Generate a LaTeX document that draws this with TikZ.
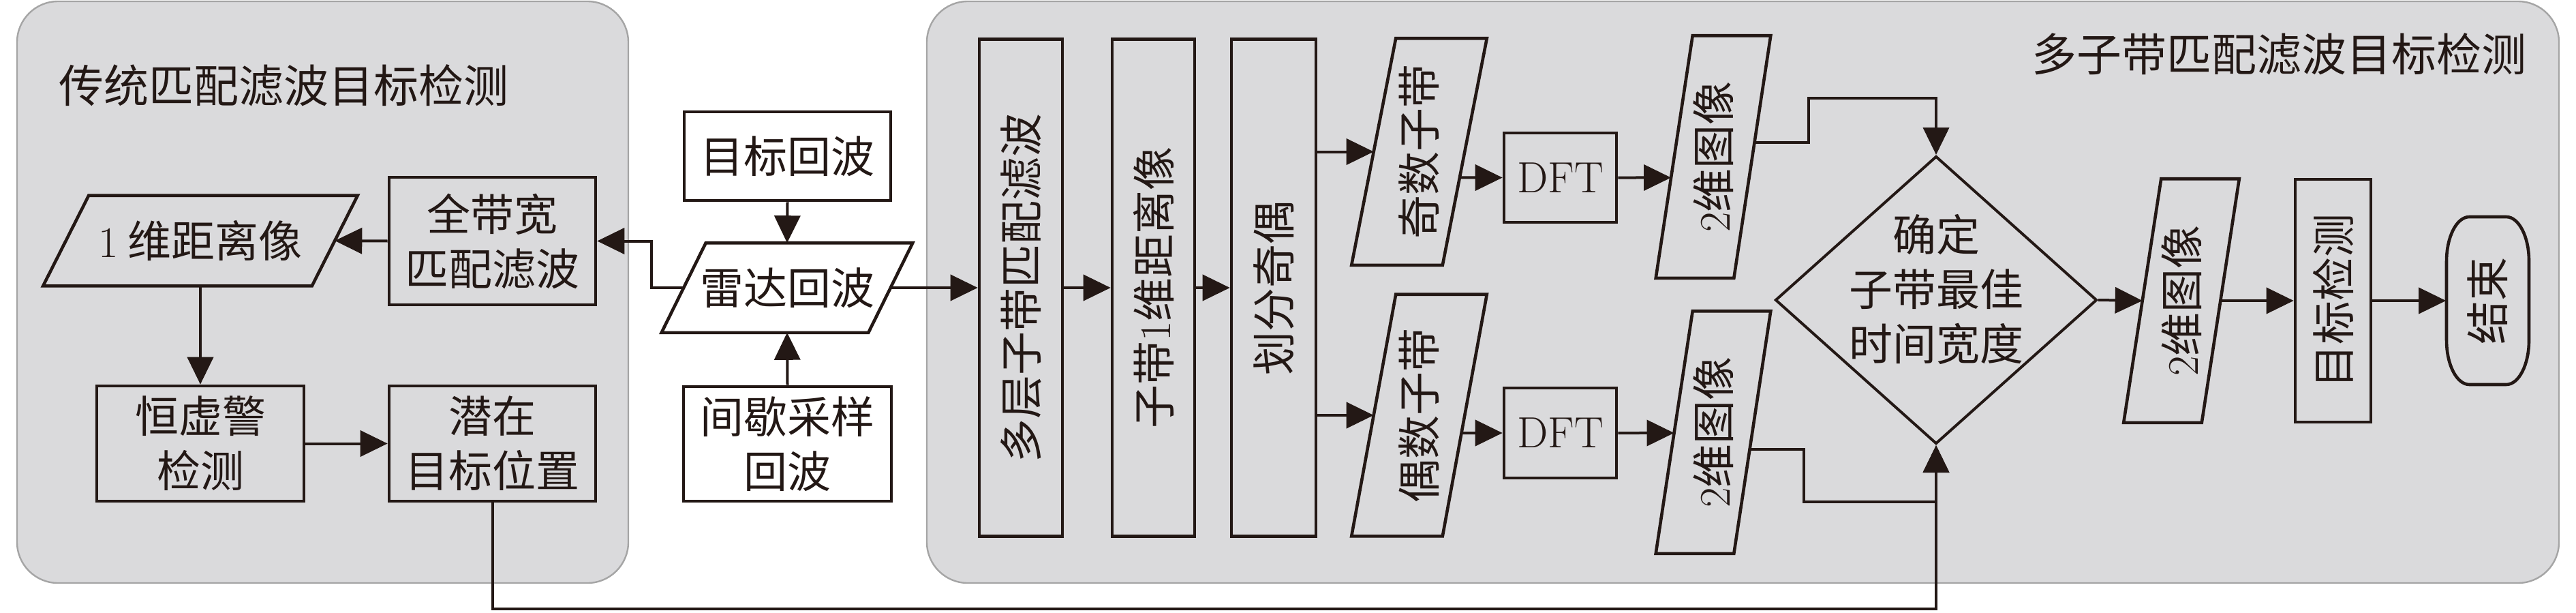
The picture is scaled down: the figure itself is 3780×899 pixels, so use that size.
\documentclass[tikz,border=0pt]{standalone}
\usepackage{fontspec}
\usepackage{graphicx}
\newfontfamily\cjk{Noto Sans CJK SC}
\usetikzlibrary{arrows.meta,calc,shapes.geometric}
\definecolor{ink}{HTML}{231815}
\definecolor{panelfill}{RGB}{218,218,220}
\definecolor{panelline}{RGB}{165,165,165}
\newcommand\lat[1]{{\rmfamily #1}}
\newcommand\vtext[1]{\rotatebox{90}{#1}}
\newcommand\txtfont{\cjk\fontsize{16pt}{20pt}\selectfont}
\newcommand\ttlfont{\cjk\fontsize{16.5pt}{20pt}\selectfont}
\newcommand\parafy[2]{%
  \coordinate (#1bl) at ($(#1.south west)+(-#2,0)$);
  \coordinate (#1br) at ($(#1.south east)+(-#2,0)$);
  \coordinate (#1tr) at ($(#1.north east)+(#2,0)$);
  \coordinate (#1tl) at ($(#1.north west)+(#2,0)$);
  \draw[boxline] (#1bl) -- (#1br) -- (#1tr) -- (#1tl) -- cycle;}
\tikzset{
  wh/.style 2 args={minimum width=#1*0.25pt, minimum height=#2*0.25pt},
  boxline/.style={draw=ink, line width=1.15pt},
  box/.style={draw=ink, line width=1.15pt, inner sep=0pt, text=ink, font=\txtfont, align=center},
  ghost/.style={inner sep=0pt, text=ink, font=\txtfont, align=center},
  arr/.style={draw=ink, line width=1pt, -{Triangle[length=10pt,width=9.5pt]}},
  panel/.style={fill=panelfill, draw=panelline, line width=0.6pt, rounded corners=15pt},
  ttl/.style={text=ink, font=\ttlfont, inner sep=0pt}
}
\begin{document}
\begin{tikzpicture}[x=0.25pt, y=-0.25pt]
\useasboundingbox (0,0) rectangle (3780,899);
% panels
\path[panel] (25,2) rectangle (922,855);
\path[panel] (1360,2) rectangle (3755,855);
\node[ttl, anchor=west] (ltitle) at (86,125) {传统匹配滤波目标检测};
\node[ttl, anchor=east] (rtitle) at (3708,79) {多子带匹配滤波目标检测};
% left part
\node[box, wh={303}{187}] (fullband) at (722.5,353.5) {全带宽\\匹配滤波};
\node[ghost, wh={393}{131}] (range) at (294,353) {\lat{1} 维距离像}; \parafy{range}{33.5}
\node[box, wh={304}{169}] (cfar) at (294,650.5) {恒虚警\\检测};
\node[box, wh={303}{169}] (potential) at (722.5,650.5) {潜在\\目标位置};
\node[box, wh={303}{130}] (echo) at (1155.5,229) {目标回波};
\node[ghost, wh={302}{130}] (radar) at (1155,422) {雷达回波}; \parafy{radar}{32.5}
\node[box, wh={305}{168}] (interm) at (1155.5,651) {间歇采样\\回波};
% right part
\node[box, wh={122}{729}] (multi) at (1498,422) {\vtext{多层子带匹配滤波}};
\node[box, wh={121}{729}] (sub) at (1692.5,422) {\vtext{子带\lat{1}维距离像}};
\node[box, wh={124}{729}] (split) at (1869,422) {\vtext{划分奇偶}};
\node[ghost, wh={132}{331}] (odd) at (2082.5,222.5) {\vtext{奇数子带}}; \parafy{odd}{32.5}
\node[ghost, wh={132}{353}] (even) at (2082.5,609) {\vtext{偶数子带}}; \parafy{even}{32.5}
\node[box, wh={165}{131}] (dfta) at (2289.5,260.5) {\lat{DFT}};
\node[box, wh={165}{132}] (dftb) at (2289.5,635) {\lat{DFT}};
\node[ghost, wh={113}{354}] (imga) at (2514,230) {\vtext{\lat{2}维图像}}; \parafy{imga}{27}
\node[ghost, wh={113}{354}] (imgb) at (2514,634) {\vtext{\lat{2}维图像}}; \parafy{imgb}{27}
\node[diamond, draw=ink, line width=1pt, inner sep=0pt, wh={472}{422}] (dec) at (2841,440) {};
\node[ghost] (dectext) at (2841,424) {确定\\子带最佳\\时间宽度};
\node[ghost, wh={113}{356}] (imgc) at (3201,441) {\vtext{\lat{2}维图像}}; \parafy{imgc}{27.5}
\node[box, wh={111}{356}] (detect) at (3423.5,441) {\vtext{目标检测}};
\node[ghost, wh={121}{246}] (finish) at (3650.5,441) {\vtext{结束}};
\begin{scope}[shift={(finish.center)}]
\draw[boxline] (-27,-123) -- (27,-123) .. controls (45.5,-123) and (60.5,-94) .. (60.5,-58)
  -- (60.5,58) .. controls (60.5,94) and (45.5,123) .. (27,123) -- (-27,123)
  .. controls (-45.5,123) and (-60.5,94) .. (-60.5,58) -- (-60.5,-58)
  .. controls (-60.5,-94) and (-45.5,-123) .. (-27,-123) -- cycle;
\end{scope}
% connectors
\coordinate (bottomrail) at (0,893);
\draw[arr] (radar.west) -- ++(-47,0) |- (fullband.east);
\draw[arr] (fullband.west) -- (range.east);
\draw[arr] (range.south) -- (cfar.north);
\draw[arr] (cfar.east) -- (potential.west);
\draw[arr] (potential.south) -- (potential.south |- bottomrail) -| (dec.south);
\draw[arr] (echo.south) -- (radar.north);
\draw[arr] (interm.north) -- (radar.south);
\draw[arr] (radar.east) -- (multi.west);
\draw[arr] (multi.east) -- (sub.west);
\draw[arr] (sub.east) -- (split.west);
\draw[arr] (split.east |- odd.west) -- (odd.west);
\draw[arr] (split.east |- even.west) -- (even.west);
\draw[arr] (intersection of oddbr--oddtr and dfta.west--dfta.east) -- (dfta.west);
\draw[arr] (dfta.east) -- (intersection of imgabl--imgatl and dfta.west--dfta.east);
\draw[arr] (intersection of evenbr--eventr and dftb.west--dftb.east) -- (dftb.west);
\draw[arr] (dftb.east) -- (intersection of imgbbl--imgbtl and dftb.west--dftb.east);
\draw[arr] ($(imgabr)!0.56!(imgatr)$) -- ++(79,0) |- ($(dec.north)+(0,-83)$) -- (dec.north);
\draw[arr] ($(imgbbr)!0.43!(imgbtr)$) -- ++(79,0) |- ($(dec.south)+(0,83)$) -- (dec.south);
\draw[arr] (dec.east) -- (imgc.west);
\draw[arr] (imgc.east) -- (detect.west);
\draw[arr] (detect.east) -- (finish.west);
\end{tikzpicture}
\end{document}
